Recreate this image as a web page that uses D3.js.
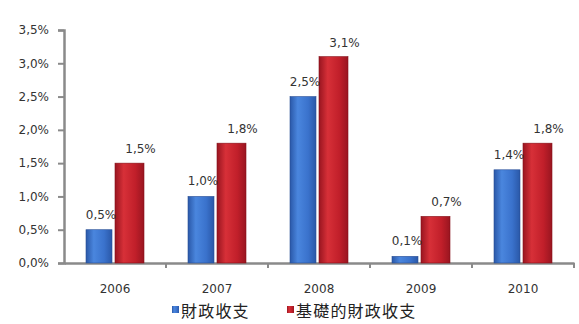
<!DOCTYPE html>
<html>
<head>
<meta charset="utf-8">
<script src="https://cdn.jsdelivr.net/npm/d3@7"></script>
<style>
  html, body { margin: 0; padding: 0; background: #ffffff; }
  svg { display: block; }
</style>
</head>
<body>
<svg id="chart" width="579" height="324"></svg>
<script>
// Balance figures, in percent
const years = ["2006", "2007", "2008", "2009", "2010"];
const fiscalBalance = [0.5, 1.0, 2.5, 0.1, 1.4];
const primaryBalance = [1.5, 1.8, 3.1, 0.7, 1.8];
const seriesNames = ["財政收支", "基礎的財政收支"];
const yTicks = [0, 0.5, 1.0, 1.5, 2.0, 2.5, 3.0, 3.5];

const fmt = v => d3.format(".1f")(v).replace(".", ",") + "%";

const svg = d3.select("#chart");
const margin = { left: 64, right: 5, top: 30, bottom: 61 };
const W = 579, H = 324;

const x = d3.scaleBand().domain(years)
  .range([margin.left, W - margin.right]).paddingInner(0).paddingOuter(0);
const y = d3.scaleLinear().domain([0, 3.5]).range([H - margin.bottom, margin.top]);

// Bar gradients: darker edges, lighter core
const defs = svg.append("defs");
function grad(id, edge, mid, core) {
  const g = defs.append("linearGradient").attr("id", id)
    .attr("x1", "0%").attr("x2", "100%").attr("y1", "0%").attr("y2", "0%");
  g.append("stop").attr("offset", "0%").attr("stop-color", edge);
  g.append("stop").attr("offset", "30%").attr("stop-color", core);
  g.append("stop").attr("offset", "70%").attr("stop-color", mid);
  g.append("stop").attr("offset", "100%").attr("stop-color", edge);
}
grad("gBlue", "#2a58a8", "#3a72cc", "#4a86de");
grad("gRed", "#991520", "#c11f2a", "#d73038");

const font = "Verdana, 'DejaVu Sans', sans-serif";
const fs = 12;

// Y axis
const yAxis = d3.axisLeft(y).tickValues(yTicks).tickFormat(fmt).tickSize(6).tickPadding(9);
const gy = svg.append("g").attr("transform", `translate(${margin.left},0)`).call(yAxis);
gy.select(".domain").attr("stroke", "#8a8a8a").attr("stroke-width", 2.5);
gy.selectAll(".tick line").attr("stroke", "#8a8a8a").attr("stroke-width", 2);
gy.selectAll(".tick text").attr("font-family", font).attr("font-size", fs).attr("fill", "#333");

// X axis
const xAxis = d3.axisBottom(x).tickSize(0).tickPadding(21);
const gx = svg.append("g").attr("transform", `translate(0,${y(0)})`).call(xAxis);
gx.select(".domain").attr("stroke", "#8a8a8a").attr("stroke-width", 2.5);
gx.selectAll(".tick text").attr("font-family", font).attr("font-size", fs).attr("fill", "#333");
// Category separators
const seps = years.map(d => x(d)).concat([x(years[years.length - 1]) + x.bandwidth()]).slice(1);
gx.selectAll(".sep").data(seps).enter().append("line")
  .attr("x1", d => d).attr("x2", d => d).attr("y1", 0).attr("y2", 5)
  .attr("stroke", "#8a8a8a").attr("stroke-width", 2);

// Bars
const blueW = 26, redW = 29, gap = 3;
const groupW = blueW + gap + redW;
const groups = svg.append("g").selectAll("g").data(years).enter().append("g")
  .attr("transform", d => `translate(${x(d) + (x.bandwidth() - groupW) / 2},0)`);

groups.append("rect")
  .attr("x", 0).attr("width", blueW)
  .attr("y", (d, i) => y(fiscalBalance[i]))
  .attr("height", (d, i) => y(0) - y(fiscalBalance[i]))
  .attr("fill", "url(#gBlue)").attr("stroke", "#2a4f95").attr("stroke-width", 0.6);

groups.append("rect")
  .attr("x", blueW + gap).attr("width", redW)
  .attr("y", (d, i) => y(primaryBalance[i]))
  .attr("height", (d, i) => y(0) - y(primaryBalance[i]))
  .attr("fill", "url(#gRed)").attr("stroke", "#851018").attr("stroke-width", 0.6);

// Value labels
groups.append("text")
  .attr("x", blueW / 2 + 2).attr("y", (d, i) => y(fiscalBalance[i]) - 11)
  .attr("text-anchor", "middle").attr("font-family", font).attr("font-size", fs).attr("fill", "#333")
  .text((d, i) => fmt(fiscalBalance[i]));
groups.append("text")
  .attr("x", blueW + gap + redW / 2 + 11).attr("y", (d, i) => y(primaryBalance[i]) - 10)
  .attr("text-anchor", "middle").attr("font-family", font).attr("font-size", fs).attr("fill", "#333")
  .text((d, i) => fmt(primaryBalance[i]));

// Legend
const legend = svg.append("g").attr("transform", "translate(172,314)");
const legendItems = [
  { name: seriesNames[0], fill: "url(#gBlue)", x: 0 },
  { name: seriesNames[1], fill: "url(#gRed)", x: 115 }
];
legendItems.forEach(it => {
  legend.append("rect").attr("x", it.x).attr("y", -8).attr("width", 7).attr("height", 7).attr("fill", it.fill);
  legend.append("text").attr("x", it.x + 9).attr("y", 0)
    .attr("font-family", "'Noto Sans CJK JP', sans-serif").attr("font-size", 16).attr("fill", "#222")
    .attr("letter-spacing", 1.2)
    .attr("dominant-baseline", "middle").attr("dy", "-0.1em")
    .text(it.name);
});
</script>
</body>
</html>
